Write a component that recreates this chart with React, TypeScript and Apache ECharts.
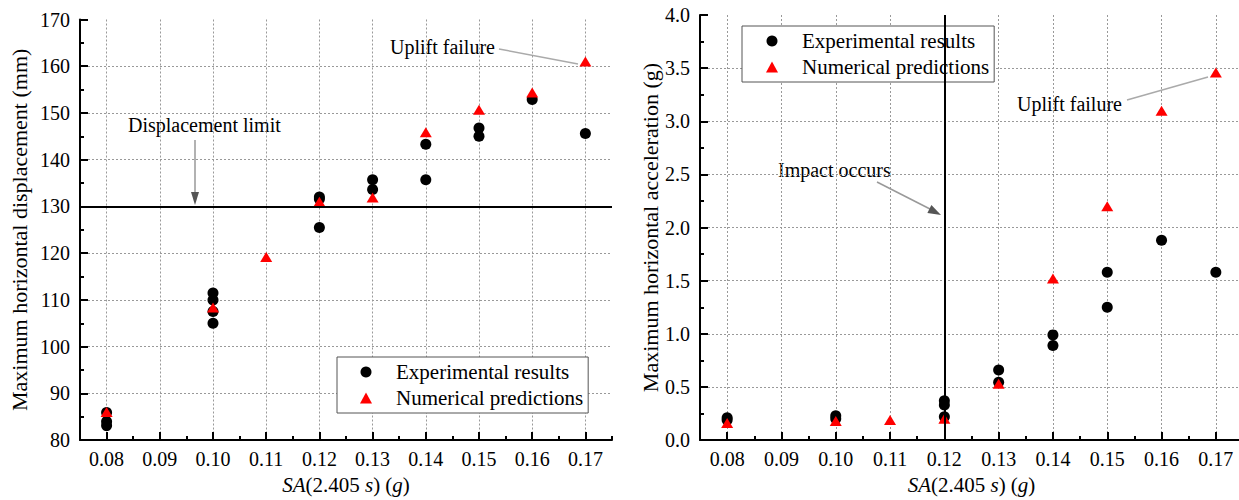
import { useEffect, useRef } from "react";
import * as echarts from "echarts";

const FONT = "'Liberation Serif', 'Times New Roman', serif";

// x axis ticks (SA in g)
const xTicks = [0.08, 0.09, 0.1, 0.11, 0.12, 0.13, 0.14, 0.15, 0.16, 0.17];
const xMinorTicks = [0.075, 0.085, 0.095, 0.105, 0.115, 0.125, 0.135, 0.145, 0.155, 0.165, 0.175];

// Left: maximum horizontal displacement (mm)
const dispExpX = [0.08, 0.08, 0.08, 0.1, 0.1, 0.1, 0.1, 0.12, 0.12, 0.12, 0.13, 0.13, 0.14, 0.14, 0.15, 0.15, 0.16, 0.17];
const dispExpY = [85.9, 84.0, 83.1, 111.5, 110.0, 107.5, 105.0, 132.0, 131.6, 125.5, 135.7, 133.6, 143.3, 135.7, 146.8, 145.0, 152.9, 145.6];
const dispNumX = [0.08, 0.1, 0.11, 0.12, 0.13, 0.14, 0.15, 0.16, 0.17];
const dispNumY = [86.0, 108.4, 119.2, 131.0, 131.9, 145.9, 150.7, 154.4, 161.0];
const dispLimit = 130;

// Right: maximum horizontal acceleration (g)
const accExpX = [0.08, 0.08, 0.1, 0.1, 0.12, 0.12, 0.12, 0.13, 0.13, 0.14, 0.14, 0.15, 0.15, 0.16, 0.17];
const accExpY = [0.21, 0.19, 0.23, 0.2, 0.37, 0.33, 0.22, 0.66, 0.545, 0.99, 0.89, 1.58, 1.25, 1.88, 1.58];
const accNumX = [0.08, 0.1, 0.11, 0.12, 0.13, 0.14, 0.15, 0.16, 0.17];
const accNumY = [0.16, 0.18, 0.19, 0.2, 0.53, 1.52, 2.2, 3.1, 3.46];
const impactSA = 0.12;

const zip = (xs: number[], ys: number[]) => xs.map((x, i) => [x, ys[i]]);

const axisLineStyle = { color: "#000", width: 2 };
const gridLineStyle = { color: "#999", width: 1, type: [2, 2] as any };
const labelStyle = { fontFamily: FONT, fontSize: 20, color: "#000" };

const xTitle = {
  name: "{i|SA}(2.405 {i|s}) ({i|g})",
  nameLocation: "middle" as const,
  nameTextStyle: {
    fontFamily: FONT,
    fontSize: 21,
    color: "#000",
    rich: {
      i: { fontFamily: FONT, fontSize: 21, fontStyle: "italic", color: "#000" },
    },
  },
};

function majorX(gridIndex: number, nameGap: number) {
  return {
    type: "value",
    gridIndex,
    min: 0.075,
    max: 0.175,
    ...xTitle,
    nameGap,
    axisLine: { show: true, onZero: false, lineStyle: axisLineStyle },
    axisTick: { show: true, inside: true, length: 8, customValues: xTicks, lineStyle: axisLineStyle },
    axisLabel: {
      show: true,
      customValues: xTicks,
      margin: 9,
      formatter: (v: number) => v.toFixed(2),
      ...labelStyle,
    },
    splitLine: { show: true, lineStyle: gridLineStyle },
  };
}

function minorX(gridIndex: number) {
  return {
    type: "value",
    gridIndex,
    min: 0.075,
    max: 0.175,
    position: "bottom",
    axisLine: { show: false },
    axisTick: { show: true, inside: true, length: 4, customValues: xMinorTicks, lineStyle: axisLineStyle },
    axisLabel: { show: false },
    splitLine: { show: false },
  };
}

const legendBase = {
  orient: "vertical",
  selectedMode: false,
  itemWidth: 12,
  itemHeight: 11,
  itemGap: 4,
  borderColor: "#555",
  borderWidth: 1,
  backgroundColor: "#fff",
  textStyle: { fontFamily: FONT, fontSize: 21, color: "#000", lineHeight: 22, padding: [0, 0, 0, 19] },
  data: [
    { name: "Experimental results", icon: "circle" },
    { name: "Numerical predictions", icon: "triangle" },
  ],
};

const annFont = { fontFamily: FONT, fontSize: 20, fill: "#000" };

const expStyle = { color: "#000", opacity: 1 };
const numStyle = { color: "#ff0000", opacity: 1 };

const option = {
  animation: false,
  backgroundColor: "#fff",
  grid: [
    { left: 80, top: 19.5, width: 532, height: 432.2 },
    { left: 700, top: 15, width: 543, height: 440 },
  ],
  legend: [
    { ...legendBase, left: 337, top: 357, padding: [4, 5, 4, 23] },
    { ...legendBase, left: 742, top: 26, padding: [4, 5, 4, 24] },
  ],
  xAxis: [majorX(0, 27), minorX(0), majorX(1, 26), minorX(1)],
  yAxis: [
    {
      type: "value",
      gridIndex: 0,
      min: 80,
      max: 170,
      interval: 10,
      name: "Maximum horizontal displacement (mm)",
      nameLocation: "middle",
      nameGap: 50,
      nameTextStyle: { fontFamily: FONT, fontSize: 22, color: "#000" },
      axisLine: { show: true, onZero: false, lineStyle: axisLineStyle },
      axisTick: { show: true, inside: true, length: 8, lineStyle: axisLineStyle },
      minorTick: { show: true, splitNumber: 2, length: 4, lineStyle: axisLineStyle },
      axisLabel: { margin: 10, ...labelStyle },
      splitLine: { show: true, showMinLine: false, showMaxLine: false, lineStyle: gridLineStyle },
    },
    {
      type: "value",
      gridIndex: 1,
      min: 0,
      max: 4,
      interval: 0.5,
      name: "Maximum horizontal acceleration (g)",
      nameLocation: "middle",
      nameGap: 37,
      nameTextStyle: { fontFamily: FONT, fontSize: 22, color: "#000" },
      axisLine: { show: true, onZero: false, lineStyle: axisLineStyle },
      axisTick: { show: true, inside: true, length: 8, lineStyle: axisLineStyle },
      minorTick: { show: true, splitNumber: 2, length: 4, lineStyle: axisLineStyle },
      axisLabel: { margin: 10, formatter: (v: number) => v.toFixed(1), ...labelStyle },
      splitLine: { show: true, showMinLine: false, showMaxLine: false, lineStyle: gridLineStyle },
    },
  ],
  series: [
    {
      name: "Experimental results",
      type: "scatter",
      xAxisIndex: 0,
      yAxisIndex: 0,
      symbol: "circle",
      symbolSize: 11,
      itemStyle: expStyle,
      data: zip(dispExpX, dispExpY),
      markLine: {
        silent: true,
        symbol: "none",
        label: { show: false },
        lineStyle: { color: "#000", width: 2, type: "solid" },
        data: [{ yAxis: dispLimit }],
      },
    },
    {
      name: "Numerical predictions",
      type: "scatter",
      xAxisIndex: 0,
      yAxisIndex: 0,
      symbol: "triangle",
      symbolSize: [12, 10],
      itemStyle: numStyle,
      data: zip(dispNumX, dispNumY),
      z: 3,
    },
    {
      name: "Experimental results",
      type: "scatter",
      xAxisIndex: 2,
      yAxisIndex: 1,
      symbol: "circle",
      symbolSize: 11,
      itemStyle: expStyle,
      data: zip(accExpX, accExpY),
      markLine: {
        silent: true,
        symbol: "none",
        label: { show: false },
        lineStyle: { color: "#000", width: 2, type: "solid" },
        data: [{ xAxis: impactSA }],
      },
    },
    {
      name: "Numerical predictions",
      type: "scatter",
      xAxisIndex: 2,
      yAxisIndex: 1,
      symbol: "triangle",
      symbolSize: [12, 10],
      itemStyle: numStyle,
      data: zip(accNumX, accNumY),
      z: 3,
    },
  ],
  graphic: [
    // Left: Displacement limit
    { type: "text", x: 128, y: 125, style: { text: "Displacement limit", ...annFont, verticalAlign: "middle" } },
    { type: "line", shape: { x1: 195, y1: 140, x2: 195, y2: 194 }, style: { stroke: "#999", lineWidth: 1.5 } },
    { type: "polygon", shape: { points: [[191, 192], [199, 192], [195, 205]] }, style: { fill: "#555" } },
    // Left: Uplift failure
    { type: "text", x: 390, y: 47, style: { text: "Uplift failure", ...annFont, verticalAlign: "middle" } },
    { type: "line", shape: { x1: 499, y1: 49, x2: 578, y2: 64 }, style: { stroke: "#aaa", lineWidth: 1.5 } },
    // Right: Impact occurs
    { type: "text", x: 778, y: 170, style: { text: "Impact occurs", ...annFont, verticalAlign: "middle" } },
    { type: "line", shape: { x1: 877, y1: 182, x2: 930, y2: 209 }, style: { stroke: "#999", lineWidth: 1.5 } },
    { type: "polygon", shape: { points: [[927.4, 213.1], [931.4, 205.1], [941, 215]] }, style: { fill: "#555" } },
    // Right: Uplift failure
    { type: "text", x: 1017, y: 104, style: { text: "Uplift failure", ...annFont, verticalAlign: "middle" } },
    { type: "line", shape: { x1: 1127, y1: 100, x2: 1208, y2: 77 }, style: { stroke: "#aaa", lineWidth: 1.5 } },
  ],
};

export default function App() {
  const ref = useRef<HTMLDivElement>(null);
  useEffect(() => {
    if (!ref.current) return;
    const chart = echarts.init(ref.current, null, { renderer: "svg" });
    chart.setOption(option as any);
    return () => chart.dispose();
  }, []);
  return (
    <div
      style={{
        position: "fixed",
        left: 0,
        top: 0,
        width: 1239,
        height: 500,
        overflow: "hidden",
        background: "#fff",
      }}
    >
      <div ref={ref} style={{ width: 1245, height: 500 }} />
    </div>
  );
}
